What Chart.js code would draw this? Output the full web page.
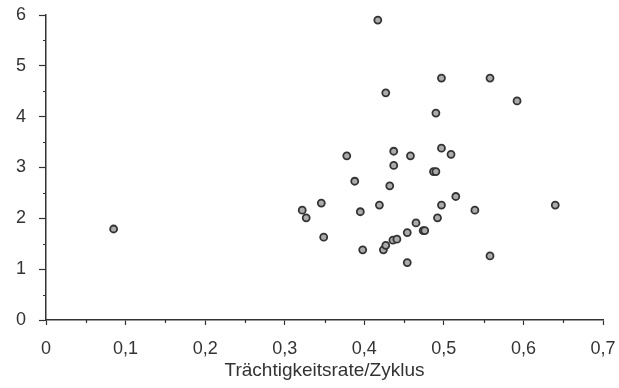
<!DOCTYPE html>
<html>
<head>
<meta charset="utf-8">
<script src="https://cdn.jsdelivr.net/npm/chart.js@4/dist/chart.umd.min.js"></script>
<style>
    html, body { margin: 0; padding: 0; background: #fff; overflow: hidden; width: 619px; height: 388px; }
    #wrap { width: 640px; height: 388px; }
</style>
</head>
<body>
<div id="wrap"><canvas id="scatterChart" width="640" height="388"></canvas></div>
<script>
// Trächtigkeitsrate/Zyklus (x) gegen Wert auf der y-Achse
const rateValues = [
    0.085, 0.322, 0.327, 0.346, 0.349, 0.378, 0.388, 0.395, 0.398, 0.417,
    0.419, 0.424, 0.427, 0.427, 0.432, 0.436, 0.437, 0.437, 0.441, 0.454,
    0.454, 0.458, 0.465, 0.474, 0.476, 0.487, 0.490, 0.490, 0.492, 0.497,
    0.497, 0.497, 0.509, 0.515, 0.539, 0.558, 0.558, 0.592, 0.640
];
const yValues = [
    1.79, 2.16, 2.01, 2.30, 1.63, 3.23, 2.73, 2.13, 1.38, 5.90,
    2.26, 1.38, 1.47, 4.47, 2.64, 1.57, 3.04, 3.32, 1.59, 1.72,
    1.13, 3.23, 1.91, 1.76, 1.76, 2.92, 2.92, 4.07, 2.01, 2.26,
    3.38, 4.76, 3.26, 2.43, 2.16, 4.76, 1.26, 4.31, 2.26
];
const xTicks = [0, 0.1, 0.2, 0.3, 0.4, 0.5, 0.6, 0.7];
const yTicks = [0, 1, 2, 3, 4, 5, 6];
const xTitle = 'Trächtigkeitsrate/Zyklus';

const points = rateValues.map((x, i) => ({ x: x, y: yValues[i] }));

const axisColor = '#333';
const textColor = '#333';
const font = { family: '"Liberation Sans", Arial, sans-serif', size: 18 };

// kurze Zwischenstriche zwischen den Hauptticks
const minorTicks = {
    id: 'minorTicks',
    afterDraw(chart) {
        const ctx = chart.ctx;
        const xs = chart.scales.x;
        const ys = chart.scales.y;
        ctx.save();
        ctx.strokeStyle = axisColor;
        ctx.lineWidth = 1.2;
        ctx.beginPath();
        for (let i = 0; i < xTicks.length - 1; i++) {
            const px = Math.round(xs.getPixelForValue((xTicks[i] + xTicks[i + 1]) / 2)) + 0.5;
            ctx.moveTo(px, xs.top);
            ctx.lineTo(px, xs.top + 3);
        }
        for (let i = 0; i < yTicks.length - 1; i++) {
            const py = Math.round(ys.getPixelForValue((yTicks[i] + yTicks[i + 1]) / 2)) + 0.5;
            ctx.moveTo(ys.right, py);
            ctx.lineTo(ys.right - 3, py);
        }
        ctx.stroke();
        ctx.restore();
    }
};

const config = {
    type: 'scatter',
    data: {
        datasets: [{
            data: points,
            pointRadius: 3.5,
            pointHoverRadius: 3.5,
            pointBackgroundColor: '#ababab',
            pointBorderColor: '#333',
            pointBorderWidth: 1.8,
        }],
    },
    options: {
        responsive: false,
        animation: false,
        devicePixelRatio: 1,
        layout: { padding: { top: 15, right: 37, left: 0, bottom: 0 } },
        plugins: {
            legend: { display: false },
            tooltip: { enabled: false },
        },
        scales: {
            x: {
                type: 'linear',
                min: xTicks[0],
                max: xTicks[xTicks.length - 1],
                afterBuildTicks: (scale) => { scale.ticks = xTicks.map(v => ({ value: v })); },
                afterFit: (scale) => { scale.height = 68; },
                border: { color: axisColor, width: 1.5 },
                grid: { drawOnChartArea: false, tickLength: 5, tickColor: axisColor, tickWidth: 1.2 },
                ticks: {
                    color: textColor,
                    font: font,
                    padding: 13,
                    maxRotation: 0,
                    callback: (v) => String(Math.round(v * 10) / 10).replace('.', ','),
                },
                title: {
                    display: true,
                    text: xTitle,
                    color: textColor,
                    font: { family: font.family, size: 19 },
                    padding: { top: 0, bottom: 6 },
                },
            },
            y: {
                type: 'linear',
                min: yTicks[0],
                max: yTicks[yTicks.length - 1],
                afterBuildTicks: (scale) => { scale.ticks = yTicks.map(v => ({ value: v })); },
                afterFit: (scale) => {
                    scale.width = 46;
                    scale.paddingTop = 0;
                    scale.paddingBottom = 0;
                },
                border: { color: axisColor, width: 1.5 },
                grid: { drawOnChartArea: false, tickLength: 7, tickColor: axisColor, tickWidth: 1.2 },
                ticks: {
                    color: textColor,
                    font: font,
                    padding: 13,
                    callback: (v) => String(v),
                },
            },
        },
    },
    plugins: [minorTicks],
};

new Chart(document.getElementById('scatterChart'), config);
</script>
</body>
</html>
